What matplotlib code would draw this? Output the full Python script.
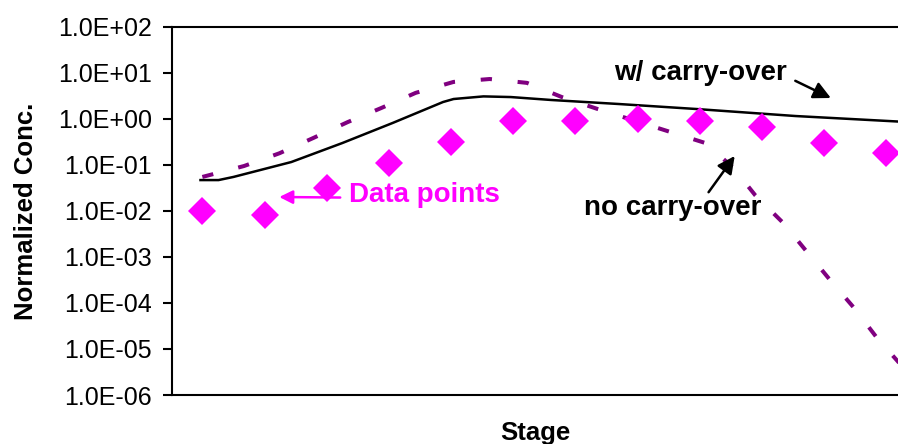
import matplotlib
matplotlib.use("Agg")
import matplotlib.pyplot as plt

# ---- data ----
stages = [1, 2, 3, 4, 5, 6, 7, 8, 9, 10, 11, 12]
data_points = [0.010, 0.0082, 0.032, 0.11, 0.32, 0.92, 0.92, 1.0, 0.92, 0.67, 0.30, 0.18]

carry_x = [0.97, 1.26, 1.50, 2.43, 3.25, 4.06, 4.87, 5.04, 5.52, 5.96, 6.61, 7.69, 8.94, 10.54, 12.33]
carry_y = [0.047, 0.047, 0.055, 0.116, 0.30, 0.82, 2.34, 2.72, 3.1, 3.0, 2.59, 2.12, 1.65, 1.16, 0.86]

nocarry_x = [1.0, 1.67, 2.24, 2.79, 3.34, 3.88, 4.43, 5.04, 5.62, 6.22, 6.78, 7.35,
             8.53, 9.09, 9.54, 9.89, 10.34, 10.72, 11.09, 11.48, 11.84, 12.33]
nocarry_y = [0.055, 0.095, 0.18, 0.39, 0.86, 1.74, 3.7, 6.4, 7.4, 6.1, 3.0, 1.66,
             0.52, 0.30, 0.086, 0.022, 0.0055, 0.0013, 3.2e-4, 7.8e-5, 1.8e-5, 3.2e-6]

ytick_vals = [1e-6, 1e-5, 1e-4, 1e-3, 1e-2, 1e-1, 1e0, 1e1, 1e2]
ytick_labels = ['1.0E-06', '1.0E-05', '1.0E-04', '1.0E-03', '1.0E-02',
                '1.0E-01', '1.0E+00', '1.0E+01', '1.0E+02']

plt.rcParams['font.family'] = ['Liberation Sans', 'DejaVu Sans']

fig = plt.figure(figsize=(8.98, 4.44), dpi=100)
ax = fig.add_axes([172/898, 49/444, 1 - 172/898 + 0.01, 368/444])


def px_to_x(px):
    return 1 + (px - 202) / 61.45


def py_to_y(py):
    return 10 ** (2 - (py - 27) / 46)


ax.plot(nocarry_x, nocarry_y, color='#800080', lw=2.9, dashes=(2.8, 6.4), zorder=2)
ax.plot(carry_x, carry_y, color='black', lw=1.8, zorder=3)
ax.plot(stages, data_points, linestyle='none', marker='D', markersize=14,
        color='#FF00FF', markeredgewidth=0, zorder=4)

ax.set_yscale('log')
ax.set_ylim(1e-6, 1e2)
ax.set_xlim(0.512, 12.33)
ax.set_yticks(ytick_vals)
ax.set_yticklabels(ytick_labels)
ax.yaxis.set_minor_locator(matplotlib.ticker.NullLocator())
ax.set_xticks([])
ax.tick_params(axis='y', direction='out', length=6.5, width=1.5, pad=8, labelsize=18)
for s in ['left', 'top', 'bottom']:
    ax.spines[s].set_linewidth(1.5)
ax.spines['right'].set_visible(False)

ax.set_ylabel('Normalized Conc.', fontsize=18.5, fontweight='bold', labelpad=14)
fig.text((172 + 898) / 2 / 898, 1 - 433/444, 'Stage', fontsize=18.5, fontweight='bold',
         ha='center', va='center')

# annotations
ax.annotate('w/ carry-over', xy=(px_to_x(823), py_to_y(98)),
            xytext=(px_to_x(694), py_to_y(73)),
            fontsize=20, fontweight='bold', color='black', ha='center', va='center',
            arrowprops=dict(arrowstyle='-|>', color='black', lw=1.8, mutation_scale=26,
                            shrinkA=0, shrinkB=0, relpos=(1.05, 0.2)))
ax.annotate('no carry-over', xy=(px_to_x(728), py_to_y(156)),
            xytext=(px_to_x(667), py_to_y(208)),
            fontsize=20, fontweight='bold', color='black', ha='center', va='center',
            arrowprops=dict(arrowstyle='-|>', color='black', lw=1.8, mutation_scale=26,
                            shrinkA=0, shrinkB=0, relpos=(0.7, 1.1)))
ax.annotate('Data points', xy=(px_to_x(278), py_to_y(197)),
            xytext=(px_to_x(421), py_to_y(195)),
            fontsize=20, fontweight='bold', color='#FF00FF', ha='center', va='center',
            arrowprops=dict(arrowstyle='-|>', color='#FF00FF', lw=1.8, mutation_scale=20,
                            shrinkA=4, shrinkB=0, relpos=(0.0, 0.4)))

fig.savefig('out.png', dpi=100)
